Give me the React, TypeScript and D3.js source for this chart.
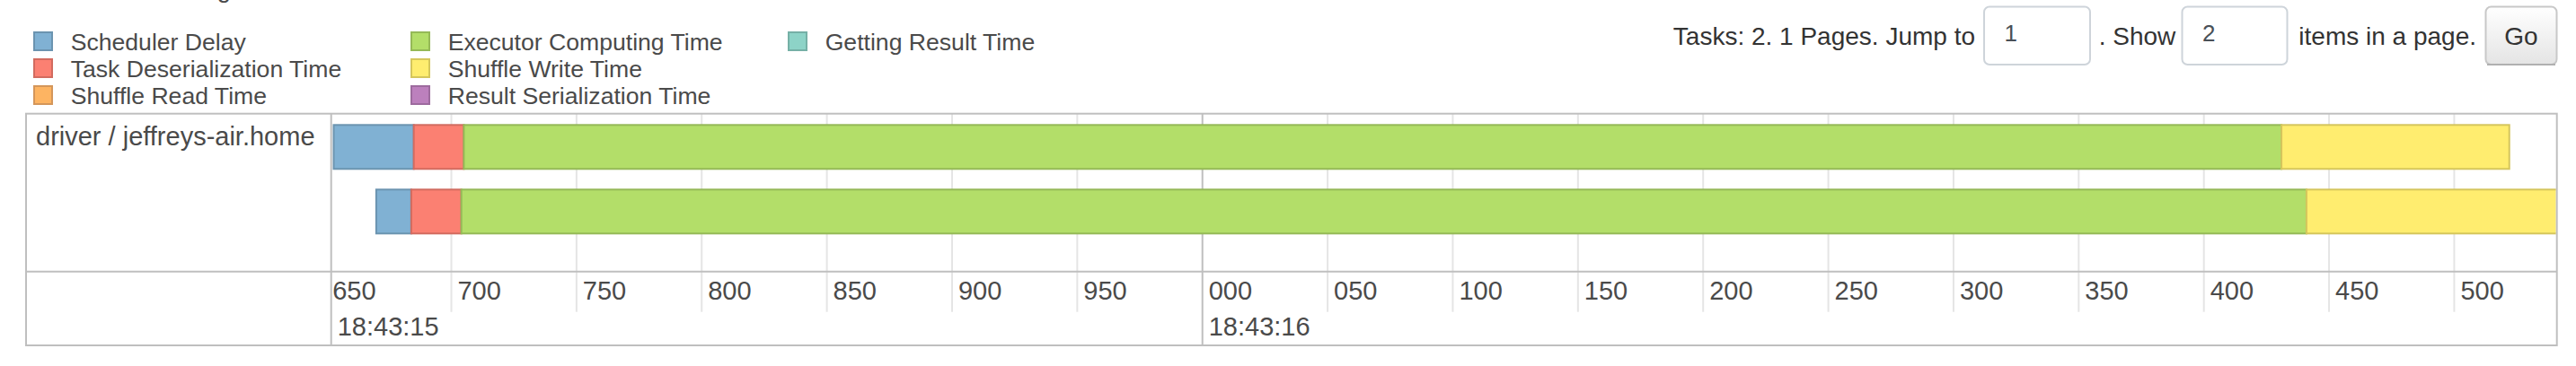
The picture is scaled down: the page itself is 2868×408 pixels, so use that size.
import React from 'react';
import * as d3 from 'd3';

// task metrics, ms (start is offset from 18:43:15.000)
const taskIds = ['0', '1'];
const taskStart = [653.3, 670.5];
const schedulerDelay = [32, 13.5];
const deserializationTime = [20, 20];
const shuffleReadTime = [0, 0];
const executorComputingTime = [726, 737];
const shuffleWriteTime = [91, 118];
const resultSerializationTime = [0, 0];
const gettingResultTime = [0, 0];

const executorLabel = 'driver / jeffreys-air.home';

const metricNames = [
  'Scheduler Delay',
  'Task Deserialization Time',
  'Shuffle Read Time',
  'Executor Computing Time',
  'Shuffle Write Time',
  'Result Serialization Time',
  'Getting Result Time',
];
const metricFill = ['#80B1D3', '#FB8072', '#FDB462', '#B3DE69', '#FFED6F', '#BC80BD', '#8DD3C7'];
const metricStroke = ['#6B94B0', '#D26B5F', '#D4965A', '#95B957', '#D5C65C', '#9D6B9E', '#75B0A6'];

// visible window of the timeline, ms after 18:43:15
const viewStartMs = 652.6;
const viewEndMs = 1541.5;
const minorTickMs = [650, 700, 750, 800, 850, 900, 950, 1000, 1050, 1100, 1150, 1200, 1250, 1300, 1350, 1400, 1450, 1500];
const majorTickMs = [0, 1000];

const base = new Date(2015, 6, 1, 18, 43, 15, 0);
const toDate = (ms: number) => new Date(base.getTime() + ms);

const FONT = '"Liberation Sans", Arial, sans-serif';
const TEXT = '#4a4a4a';

export default function App() {
  const W = 2868;
  const H = 408;
  const frame = { left: 29, top: 126.7, right: 2846.7, bottom: 385 };
  const divX = 368.7;
  const axisY = 302.7;

  const x = d3
    .scaleTime()
    .domain([toDate(viewStartMs), toDate(viewEndMs)])
    .range([divX, frame.right]);

  const y = d3.scaleBand<string>().domain(taskIds).range([138.3, 282.3]);
  const barH = 51;

  const series = [
    schedulerDelay,
    deserializationTime,
    shuffleReadTime,
    executorComputingTime,
    shuffleWriteTime,
    resultSerializationTime,
    gettingResultTime,
  ];

  // cumulative segments per task
  const segments = taskIds.flatMap((id, i) => {
    let t = taskStart[i];
    return series.map((s, k) => {
      const seg = { id, k, t0: t, t1: t + s[i] };
      t += s[i];
      return seg;
    }).filter((d) => d.t1 > d.t0);
  });

  const fmtMinor = d3.timeFormat('%L');
  const fmtMajor = d3.timeFormat('%H:%M:%S');
  const xm = (ms: number) => x(toDate(ms));

  const legendRows = 3;

  return (
    <svg
      width={W}
      height={H}
      style={{ position: 'absolute', left: 0, top: 0, display: 'block', background: '#fff' }}
      fontFamily={FONT}
    >
      <defs>
        <clipPath id="content">
          <rect x={divX + 1} y={frame.top} width={frame.right - divX - 2} height={frame.bottom - frame.top} />
        </clipPath>
        <linearGradient id="btn" x1="0" y1="0" x2="0" y2="1">
          <stop offset="0" stopColor="#ffffff" />
          <stop offset="1" stopColor="#e4e4e4" />
        </linearGradient>
      </defs>

      {/* heading above the legend, scrolled mostly out of view */}
      <text x={257} y={-3} fontSize={28} textAnchor="end" fill={TEXT}>Enable zooming</text>

      {/* legend */}
      {metricNames.map((name, i) => {
        const col = Math.floor(i / legendRows);
        const row = i % legendRows;
        const lx = 38 + col * 420;
        const ly = 36 + row * 30;
        return (
          <g key={name}>
            <rect x={lx} y={ly} width={20} height={20} fill={metricFill[i]} stroke={metricStroke[i]} strokeWidth={2} />
            <text x={lx + 40.7} y={ly + 19.5} fontSize={26.6} fill={TEXT}>{name}</text>
          </g>
        );
      })}

      {/* pagination */}
      <g fontSize={28} fill="#333">
        <text x={2199} y={50} textAnchor="end">Tasks: 2. 1 Pages. Jump to</text>
        <rect x={2209} y={7.5} width={118} height={64.5} rx={6} fill="#fff" stroke="#ced4da" strokeWidth={2} />
        <text x={2231.5} y={46} fontSize={26} fill="#495057">1</text>
        <text x={2336.7} y={50}>. Show</text>
        <rect x={2429.5} y={7.5} width={117} height={64.5} rx={6} fill="#fff" stroke="#ced4da" strokeWidth={2} />
        <text x={2452} y={46} fontSize={26} fill="#495057">2</text>
        <text x={2757} y={50} textAnchor="end">items in a page.</text>
        <rect x={2767.5} y={7.5} width={79} height={64.5} rx={6} fill="url(#btn)" stroke="#c8c8c8" strokeWidth={2} />
        <line x1={2769} x2={2845} y1={72} y2={72} stroke="#b0b0b0" strokeWidth={2} />
        <text x={2807} y={50} textAnchor="middle">Go</text>
      </g>

      {/* grid */}
      <g clipPath="url(#content)">
        {minorTickMs.map((ms) => (
          <line
            key={'g' + ms}
            x1={xm(ms)}
            x2={xm(ms)}
            y1={frame.top}
            y2={ms % 1000 === 0 ? frame.bottom : 347.7}
            stroke={ms % 1000 === 0 ? '#bfbfbf' : '#e5e5e5'}
            strokeWidth={2}
          />
        ))}

        {/* task bars */}
        {segments.map((d, j) => (
          <rect
            key={j}
            x={xm(d.t0)}
            y={(y(d.id) as number) + 1}
            width={xm(d.t1) - xm(d.t0)}
            height={barH - 2}
            fill={metricFill[d.k]}
            stroke={metricStroke[d.k]}
            strokeWidth={2}
          />
        ))}

        {/* axis labels */}
        {minorTickMs.map((ms) => (
          <text key={'t' + ms} x={xm(ms) + 7} y={333.5} fontSize={29} fill={TEXT}>
            {fmtMinor(toDate(ms))}
          </text>
        ))}
        {majorTickMs.map((ms) => (
          <text
            key={'m' + ms}
            x={Math.max(xm(ms), divX) + 7}
            y={373.5}
            fontSize={29}
            fill={TEXT}
          >
            {fmtMajor(toDate(ms))}
          </text>
        ))}
      </g>

      {/* frame */}
      <g stroke="#bfbfbf" strokeWidth={2} fill="none">
        <rect x={frame.left} y={frame.top} width={frame.right - frame.left} height={frame.bottom - frame.top} />
        <line x1={divX} x2={divX} y1={frame.top} y2={frame.bottom} />
        <line x1={frame.left} x2={frame.right} y1={axisY} y2={axisY} />
      </g>

      <text x={40} y={161.7} fontSize={29} fill={TEXT}>{executorLabel}</text>
    </svg>
  );
}
